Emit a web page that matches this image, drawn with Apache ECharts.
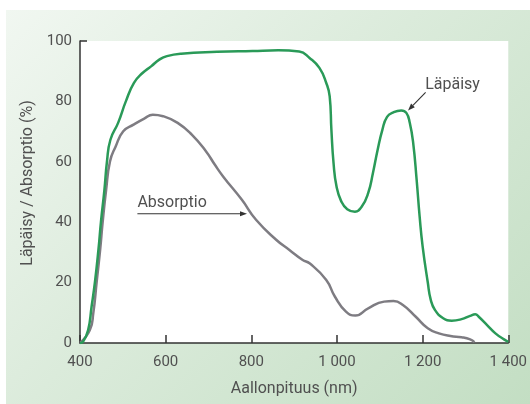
<!DOCTYPE html>
<html><head><meta charset="utf-8">
<script src="https://cdn.jsdelivr.net/npm/echarts@6/dist/echarts.min.js"></script>
<style>
html,body{margin:0;padding:0;background:#fff}
#wrap{position:relative;width:530px;height:404px;background:#fff;overflow:hidden}
#bg{position:absolute;left:6px;top:10px;width:524px;height:394px;background:linear-gradient(135deg,#f1f7f1 0%,#dbebdb 45%,#c3dec3 100%)}
#c{position:absolute;left:0;top:0;width:530px;height:404px}
</style>
</head><body><div id="wrap"><div id="bg"></div><div id="c"></div></div>
<script>
// Tick values / labels
const xTickValues = [400, 600, 800, 1000, 1200, 1400];
const xTickLabels = ['400', '600', '800', '1 000', '1 200', '1 400'];
const yTickValues = [0, 20, 40, 60, 80, 100];

// Läpäisy (transmittance), wavelength nm / percent
const lapaisyNm  = [400, 407, 419, 427, 435, 443, 449, 457, 463, 471, 489, 507, 526, 546, 566, 586, 603, 636, 720, 803, 863, 912, 936, 959, 975, 983, 987, 992, 999, 1010, 1024, 1042, 1058, 1073, 1084, 1095, 1106, 1117, 1132, 1150, 1162, 1170, 1178, 1186, 1193, 1200, 1212, 1219, 1229, 1248, 1268, 1291, 1311, 1323, 1331, 1350, 1370, 1390, 1400];
const lapaisyPct = [0, 0.4, 4.3, 12, 20.3, 30.8, 40.2, 50.7, 60.1, 67.3, 72.9, 80, 86.1, 89.4, 91.6, 93.9, 95, 95.8, 96.4, 96.7, 96.9, 96.5, 94.4, 91.1, 86.1, 81.7, 70.6, 59.6, 51.8, 46.9, 44.3, 43.5, 45.2, 49.7, 56.3, 64, 70.6, 74.9, 76.4, 77, 76.2, 72.9, 66.2, 54.1, 41.9, 32, 20.1, 14.3, 10.9, 8.2, 7.4, 7.9, 9, 9.5, 8.7, 6, 3.2, 1.2, 0.4];

// Absorptio (absorption), wavelength nm / percent
const absorptioNm  = [400, 423, 431, 439, 447, 453, 461, 470, 483, 501, 525, 550, 570, 594, 628, 661, 694, 715, 735, 778, 811, 858, 889, 920, 936, 975, 995, 1021, 1043, 1073, 1110, 1132, 1154, 1184, 1212, 1238, 1265, 1291, 1311, 1321];
const absorptioPct = [0, 4.3, 9.8, 20.3, 30.8, 40.2, 50.7, 60.1, 65, 70.1, 72.3, 74.3, 75.6, 75.1, 72.9, 69, 63.5, 59, 55, 47.4, 40.8, 34.2, 30.8, 27.5, 26.4, 20.9, 15.4, 10.4, 9.1, 11.5, 13.7, 13.9, 12.6, 8.7, 4.9, 3.2, 2.3, 1.9, 1.2, 0.3];

const seriesNames = ['Läpäisy', 'Absorptio'];
const xName = 'Aallonpituus (nm)';
const yName = 'Läpäisy / Absorptio (%)';

const zip = (a, b) => a.map((v, i) => [v, b[i]]);
const FONT = 'Roboto, "Liberation Sans", sans-serif';
const TXT = '#505050';
const AX = '#333333';

const chart = echarts.init(document.getElementById('c'), null, {renderer: 'canvas'});
chart.setOption({
  animation: false,
  backgroundColor: 'transparent',
  textStyle: {fontFamily: FONT},
  grid: {left: 80, right: 12, top: 41, bottom: 61, show: true, backgroundColor: '#ffffff', borderWidth: 0},
  xAxis: {
    type: 'value', min: 400, max: 1400, interval: 200,
    name: xName, nameLocation: 'middle', nameGap: 38,
    nameTextStyle: {fontSize: 16, color: TXT, fontFamily: FONT},
    axisLine: {show: true, lineStyle: {color: AX, width: 1.5}},
    axisTick: {show: true, inside: true, length: 8, lineStyle: {color: AX, width: 1.5}},
    axisLabel: {
      fontSize: 15, color: TXT, fontFamily: FONT, margin: 12,
      formatter: v => { const i = xTickValues.indexOf(v); return i >= 0 ? xTickLabels[i] : ''; }
    },
    splitLine: {show: false}
  },
  yAxis: {
    type: 'value', min: 0, max: 100, interval: 20,
    name: yName, nameLocation: 'middle', nameGap: 35,
    nameTextStyle: {fontSize: 16, color: TXT, fontFamily: FONT, padding: [0, 0, 0, 18]},
    axisLine: {show: true, lineStyle: {color: AX, width: 1.5}},
    axisTick: {show: true, inside: true, length: 7, customValues: [100], lineStyle: {color: AX, width: 1.5}},
    axisLabel: {fontSize: 15, color: TXT, fontFamily: FONT, margin: 8, customValues: yTickValues},
    splitLine: {show: true, showMinLine: false, showMaxLine: false, lineStyle: {color: '#c4c4c4', width: 1, type: [4, 3]}}
  },
  series: [
    {name: seriesNames[0], type: 'line', data: zip(lapaisyNm, lapaisyPct), showSymbol: false, symbol: 'none',
     smooth: 0.5, lineStyle: {color: '#2a9a58', width: 2.5}, z: 3},
    {name: seriesNames[1], type: 'line', data: zip(absorptioNm, absorptioPct), showSymbol: false, symbol: 'none',
     smooth: 0.5, lineStyle: {color: '#7e7c82', width: 2.5}, z: 2}
  ]
});

// annotations placed in data space
function px(p) { return chart.convertToPixel({gridIndex: 0}, p); }
function arrow(from, to) {
  const a = px(from), b = px(to);
  const dx = b[0] - a[0], dy = b[1] - a[1], L = Math.hypot(dx, dy);
  const ux = dx / L, uy = dy / L, hl = 7, hw = 2.6;
  const bx = b[0] - ux * hl, by = b[1] - uy * hl;
  return [
    {type: 'line', shape: {x1: a[0], y1: a[1], x2: bx, y2: by}, style: {stroke: AX, lineWidth: 1.1}, z: 10},
    {type: 'polygon', shape: {points: [[b[0], b[1]], [bx - uy * hw, by + ux * hw], [bx + uy * hw, by - ux * hw]]}, style: {fill: AX}, z: 10}
  ];
}
function label(text, at) {
  const p = px(at);
  return {type: 'text', x: p[0], y: p[1], style: {text: text, fill: TXT, font: '16px ' + FONT, textAlign: 'left', textVerticalAlign: 'middle'}, z: 10};
}
chart.setOption({
  graphic: [].concat(
    arrow([1207, 83], [1166, 77]),
    [label(seriesNames[0], [1206, 85.3])],
    arrow([534, 42.8], [790, 42.8]),
    [label(seriesNames[1], [534, 46.5])]
  )
});
</script>
</body></html>
